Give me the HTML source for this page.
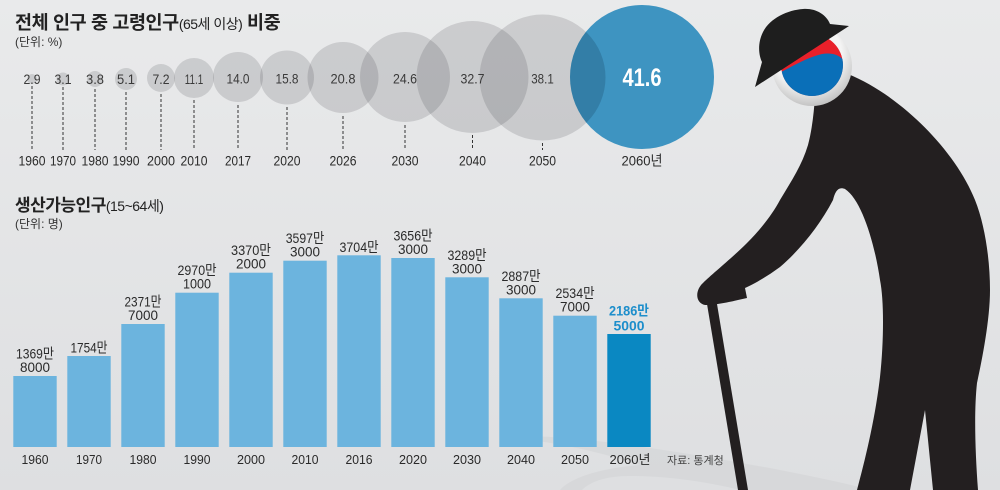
<!DOCTYPE html>
<html>
<head>
<meta charset="utf-8">
<style>
html,body{margin:0;padding:0;}
body{width:1000px;height:490px;overflow:hidden;background:#e7e8e9;}
svg{display:block;}
text{font-family:"Liberation Sans","Noto Sans CJK KR",sans-serif;}
</style>
</head>
<body>
<svg width="1000" height="490" viewBox="0 0 1000 490" xmlns="http://www.w3.org/2000/svg">
<defs>
<linearGradient id="bg" x1="0" y1="0" x2="0" y2="1">
<stop offset="0" stop-color="#e9eaeb"/>
<stop offset="1" stop-color="#dedfe1"/>
</linearGradient>
<radialGradient id="ring" cx="0.45" cy="0.35" r="0.7">
<stop offset="0.6" stop-color="#f4f4f4"/>
<stop offset="1" stop-color="#b9b9b9"/>
</radialGradient>
<clipPath id="c2060"><circle cx="642" cy="77" r="72"/></clipPath>
<clipPath id="flag"><circle cx="812" cy="65" r="31"/></clipPath>
</defs>
<rect width="1000" height="490" fill="url(#bg)"/>

<!-- shadow swoosh -->
<path d="M530 436 C600 438,700 455,780 470 C820 478,850 484,870 490 L740 490 C700 480,660 476,630 476 C605 476,590 482,582 490 L560 490 C570 478,600 468,640 465 C610 455,570 445,530 440 Z" fill="#cfd0d2" opacity="0.45"/>

<!-- Titles -->
<text x="15" y="29" font-size="18.5" font-weight="bold" fill="#222" letter-spacing="-0.4">전체 인구 중 고령인구<tspan font-size="14" font-weight="normal" letter-spacing="-0.5">(65세 이상)</tspan> 비중</text>
<text x="15" y="46" font-size="12" fill="#333">(단위: %)</text>

<!-- Bubbles -->
<g fill="rgb(25,30,35)" fill-opacity="0.14">
<circle cx="32" cy="79" r="5"/>
<circle cx="63" cy="79" r="6.5"/>
<circle cx="95" cy="79" r="8"/>
<circle cx="126" cy="79" r="11"/>
<circle cx="161" cy="78" r="14"/>
<circle cx="194" cy="78" r="20"/>
<circle cx="238" cy="77" r="25"/>
<circle cx="287" cy="77.5" r="27"/>
<circle cx="343" cy="77.5" r="35.5"/>
<circle cx="405" cy="77" r="45"/>
<circle cx="472.5" cy="77" r="56"/>
<circle cx="542.5" cy="77.5" r="63"/>
</g>
<circle cx="642" cy="77" r="72" fill="#3e94c1"/>
<circle cx="542.5" cy="77.5" r="63" fill="#0a2a40" fill-opacity="0.2" clip-path="url(#c2060)"/>

<!-- dashed lines -->
<g stroke="#333" stroke-width="1" stroke-dasharray="3,2">
<line x1="32" y1="86" x2="32" y2="150"/>
<line x1="63" y1="87" x2="63" y2="150"/>
<line x1="95" y1="89" x2="95" y2="150"/>
<line x1="126" y1="92" x2="126" y2="150"/>
<line x1="161" y1="94" x2="161" y2="150"/>
<line x1="194" y1="100" x2="194" y2="150"/>
<line x1="238" y1="105" x2="238" y2="150"/>
<line x1="287" y1="107" x2="287" y2="150"/>
<line x1="343" y1="116" x2="343" y2="150"/>
<line x1="405" y1="125" x2="405" y2="150"/>
<line x1="472.5" y1="135" x2="472.5" y2="150"/>
<line x1="542.5" y1="143" x2="542.5" y2="150"/>
</g>

<!-- bubble values -->
<g font-size="14" fill="#3a3a3a" text-anchor="middle">
<text x="32" y="84" textLength="17" lengthAdjust="spacingAndGlyphs">2.9</text>
<text x="63" y="84" textLength="17" lengthAdjust="spacingAndGlyphs">3.1</text>
<text x="95" y="84" textLength="18" lengthAdjust="spacingAndGlyphs">3.8</text>
<text x="126" y="84" textLength="18" lengthAdjust="spacingAndGlyphs">5.1</text>
<text x="161" y="84" textLength="17" lengthAdjust="spacingAndGlyphs">7.2</text>
<text x="194" y="84" textLength="18.5" lengthAdjust="spacingAndGlyphs">11.1</text>
<text x="238" y="83.5" textLength="23" lengthAdjust="spacingAndGlyphs">14.0</text>
<text x="287" y="83.5" textLength="23" lengthAdjust="spacingAndGlyphs">15.8</text>
<text x="343" y="83.5" textLength="25" lengthAdjust="spacingAndGlyphs">20.8</text>
<text x="405" y="83.5" textLength="24" lengthAdjust="spacingAndGlyphs">24.6</text>
<text x="472.5" y="83.5" textLength="24" lengthAdjust="spacingAndGlyphs">32.7</text>
<text x="542.5" y="83.5" textLength="22.5" lengthAdjust="spacingAndGlyphs">38.1</text>
</g>
<text x="642" y="86" font-size="25" font-weight="bold" fill="#ffffff" text-anchor="middle" textLength="39" lengthAdjust="spacingAndGlyphs">41.6</text>

<!-- bubble years -->
<g font-size="14" fill="#2a2a2a" text-anchor="middle">
<text x="32" y="165.5" textLength="27" lengthAdjust="spacingAndGlyphs">1960</text>
<text x="63" y="165.5" textLength="26" lengthAdjust="spacingAndGlyphs">1970</text>
<text x="95" y="165.5" textLength="27" lengthAdjust="spacingAndGlyphs">1980</text>
<text x="126" y="165.5" textLength="27" lengthAdjust="spacingAndGlyphs">1990</text>
<text x="161" y="165.5" textLength="28" lengthAdjust="spacingAndGlyphs">2000</text>
<text x="194" y="165.5" textLength="27" lengthAdjust="spacingAndGlyphs">2010</text>
<text x="238" y="165.5" textLength="26" lengthAdjust="spacingAndGlyphs">2017</text>
<text x="287" y="165.5" textLength="27" lengthAdjust="spacingAndGlyphs">2020</text>
<text x="343" y="165.5" textLength="27" lengthAdjust="spacingAndGlyphs">2026</text>
<text x="405" y="165.5" textLength="27" lengthAdjust="spacingAndGlyphs">2030</text>
<text x="472.5" y="165.5" textLength="27" lengthAdjust="spacingAndGlyphs">2040</text>
<text x="542.5" y="165.5" textLength="27" lengthAdjust="spacingAndGlyphs">2050</text>
<text x="642" y="165.5" textLength="41" lengthAdjust="spacingAndGlyphs">2060년</text>
</g>

<!-- Bar section titles -->
<text x="15" y="211" font-size="17" font-weight="bold" fill="#222" letter-spacing="-0.5">생산가능인구<tspan font-size="14" font-weight="normal">(15~64세)</tspan></text>
<text x="15" y="228" font-size="12" fill="#333">(단위: 명)</text>

<!-- Bars -->
<g fill="#6cb4de">
<rect x="13.3" y="376" width="43.4" height="71"/>
<rect x="67.3" y="356" width="43.4" height="91"/>
<rect x="121.3" y="324" width="43.4" height="123"/>
<rect x="175.3" y="292.7" width="43.4" height="154.3"/>
<rect x="229.3" y="272.7" width="43.4" height="174.3"/>
<rect x="283.3" y="260.7" width="43.4" height="186.3"/>
<rect x="337.3" y="255.3" width="43.4" height="191.7"/>
<rect x="391.3" y="258" width="43.4" height="189"/>
<rect x="445.3" y="277.3" width="43.4" height="169.7"/>
<rect x="499.3" y="298.3" width="43.4" height="148.7"/>
<rect x="553.3" y="315.7" width="43.4" height="131.3"/>
</g>
<rect x="607.3" y="334" width="43.4" height="113" fill="#0a88c2"/>

<!-- Bar labels -->
<g font-size="14" fill="#2a2a2a" text-anchor="middle">
<text x="35" y="358.5" textLength="38" lengthAdjust="spacingAndGlyphs">1369만</text>
<text x="35" y="372" textLength="30" lengthAdjust="spacingAndGlyphs">8000</text>
<text x="89" y="352.5" textLength="37" lengthAdjust="spacingAndGlyphs">1754만</text>
<text x="143" y="306.5" textLength="37" lengthAdjust="spacingAndGlyphs">2371만</text>
<text x="143" y="320" textLength="30" lengthAdjust="spacingAndGlyphs">7000</text>
<text x="197" y="275.2" textLength="39" lengthAdjust="spacingAndGlyphs">2970만</text>
<text x="197" y="288.7" textLength="28" lengthAdjust="spacingAndGlyphs">1000</text>
<text x="251" y="255.2" textLength="40" lengthAdjust="spacingAndGlyphs">3370만</text>
<text x="251" y="268.7" textLength="30" lengthAdjust="spacingAndGlyphs">2000</text>
<text x="305" y="243.2" textLength="38.5" lengthAdjust="spacingAndGlyphs">3597만</text>
<text x="305" y="256.7" textLength="30" lengthAdjust="spacingAndGlyphs">3000</text>
<text x="359" y="251.8" textLength="39" lengthAdjust="spacingAndGlyphs">3704만</text>
<text x="413" y="240.5" textLength="39" lengthAdjust="spacingAndGlyphs">3656만</text>
<text x="413" y="254" textLength="30" lengthAdjust="spacingAndGlyphs">3000</text>
<text x="467" y="259.8" textLength="39" lengthAdjust="spacingAndGlyphs">3289만</text>
<text x="467" y="273.3" textLength="30" lengthAdjust="spacingAndGlyphs">3000</text>
<text x="521" y="280.8" textLength="39" lengthAdjust="spacingAndGlyphs">2887만</text>
<text x="521" y="294.3" textLength="30" lengthAdjust="spacingAndGlyphs">3000</text>
<text x="575" y="298.2" textLength="39" lengthAdjust="spacingAndGlyphs">2534만</text>
<text x="575" y="311.7" textLength="30" lengthAdjust="spacingAndGlyphs">7000</text>
</g>
<g font-size="14" fill="#1d8ecb" text-anchor="middle" font-weight="bold">
<text x="629" y="315.5" textLength="40" lengthAdjust="spacingAndGlyphs">2186만</text>
<text x="629" y="330.5" textLength="31" lengthAdjust="spacingAndGlyphs">5000</text>
</g>

<!-- Bar years -->
<g font-size="13" fill="#2a2a2a" text-anchor="middle">
<text x="35" y="464" textLength="27" lengthAdjust="spacingAndGlyphs">1960</text>
<text x="89" y="464" textLength="26" lengthAdjust="spacingAndGlyphs">1970</text>
<text x="143" y="464" textLength="27" lengthAdjust="spacingAndGlyphs">1980</text>
<text x="197" y="464" textLength="27" lengthAdjust="spacingAndGlyphs">1990</text>
<text x="251" y="464" textLength="28" lengthAdjust="spacingAndGlyphs">2000</text>
<text x="305" y="464" textLength="27" lengthAdjust="spacingAndGlyphs">2010</text>
<text x="359" y="464" textLength="27" lengthAdjust="spacingAndGlyphs">2016</text>
<text x="413" y="464" textLength="28" lengthAdjust="spacingAndGlyphs">2020</text>
<text x="467" y="464" textLength="28" lengthAdjust="spacingAndGlyphs">2030</text>
<text x="521" y="464" textLength="28" lengthAdjust="spacingAndGlyphs">2040</text>
<text x="575" y="464" textLength="28" lengthAdjust="spacingAndGlyphs">2050</text>
<text x="630" y="464" textLength="41" lengthAdjust="spacingAndGlyphs">2060년</text>
</g>
<text x="667" y="464" font-size="11" fill="#444">자료: 통계청</text>

<!-- Figure: cane -->
<polygon points="706,298 716,298 748,490 738,490" fill="#231f20"/>
<!-- body -->
<path d="M848 74 C900 95,955 150,975 200 C985 225,990 260,990 290 C990 320,982 360,977 383 C974 410,975 450,978 490 L933 490 L925 410 L910 490 L857 490 C865 460,875 420,880 377 C884 340,884 300,880 280 C875 245,862 200,845 189 C838 186,835 192,833 200 C820 225,800 250,780 267 C765 278,752 285,745 288 L747 298 L738 300 C730 302,715 305,705 305 C695 303,695 290,703 283 C712 274,732 258,747 243 C760 230,772 215,780 200 C792 180,802 165,808 145 C812 130,814 112,815 96 Z" fill="#231f20"/>
<!-- face ring -->
<circle cx="812" cy="66" r="40" fill="url(#ring)"/>
<g clip-path="url(#flag)">
<circle cx="812" cy="65" r="31" fill="#e8202a"/>
<path d="M779 73 C793 66,803 60,815 56 C826 52,838 52,845 62 L850 110 L770 110 Z" fill="#0a6fb8"/>
</g>
<!-- hat -->
<path d="M755 87 L849 26 L830 24 C826 14,815 8,803 9 C788 10,770 18,763 32 C757 44,759 56,762 62 L755 87 Z" fill="#1e1e1e"/>
</svg>
</body>
</html>
